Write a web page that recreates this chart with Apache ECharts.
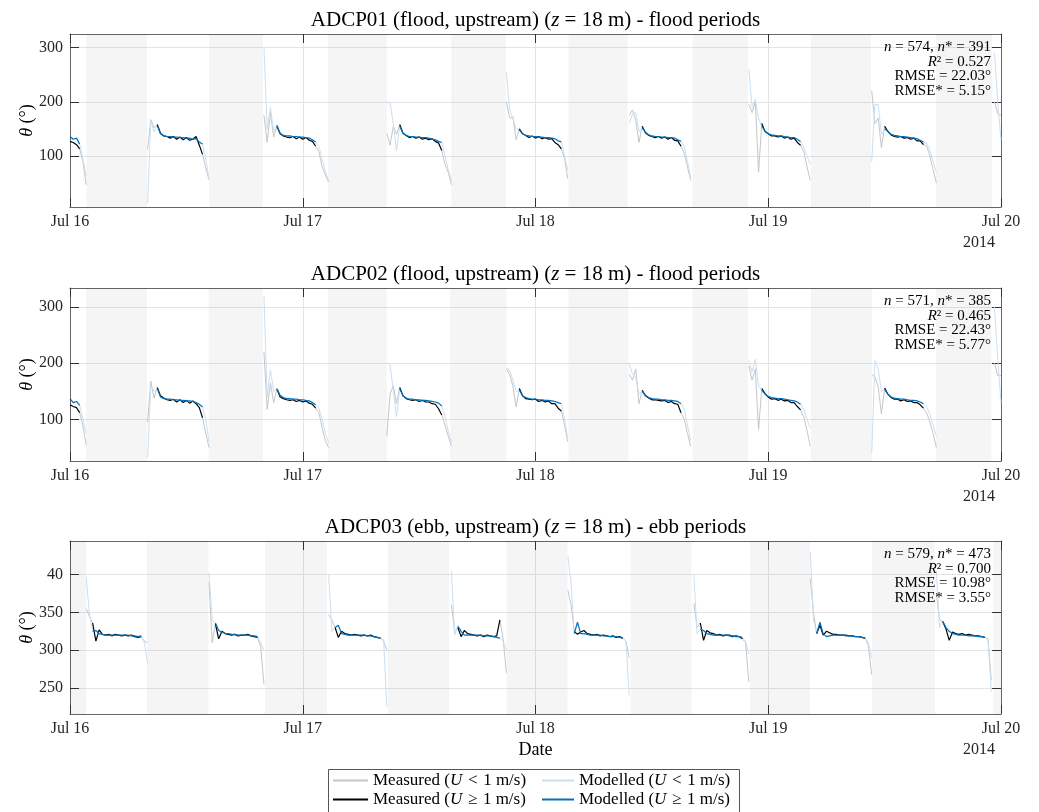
<!DOCTYPE html>
<html><head><meta charset="utf-8">
<script src="https://cdn.jsdelivr.net/npm/echarts@6/dist/echarts.min.js"></script>
<style>html,body{margin:0;padding:0;background:#fff}#main{width:1039px;height:812px}</style>
</head><body><div id="main"></div>
<script>
// ---------- data ----------
const dayTicks = [0, 24, 48, 72, 96];              // hours since Jul 16 00:00
const dayLabels = ['Jul 16', 'Jul 17', 'Jul 18', 'Jul 19', 'Jul 20'];
const yearLabel = '2014';
const stations = ['ADCP01', 'ADCP02', 'ADCP03'];
const tideTypes = ['flood', 'flood', 'ebb'];
const periodTypes = ['flood periods', 'flood periods', 'ebb periods'];
const statN = [574, 571, 579];
const statNStar = [391, 385, 473];
const statR2 = ['0.527', '0.465', '0.700'];
const statRMSE = ['22.03', '22.43', '10.98'];
const statRMSEStar = ['5.15', '5.77', '3.55'];
const seriesNames = ['Measured (U < 1 m/s)', 'Measured (U ≥ 1 m/s)', 'Modelled (U < 1 m/s)', 'Modelled (U ≥ 1 m/s)'];

const yRange1 = [6, 325], yRange2 = [26, 334], yRange3 = [215.5, 444.6];
const yTicks1 = [100, 200, 300], yTicks2 = [100, 200, 300], yTicks3 = [250, 300, 350, 400];

// shaded (excluded) periods, hours
const bands1 = [[1.68,7.94],[14.34,19.9],[26.6,32.67],[39.3,44.95],[51.4,57.5],[64.2,69.9],[76.4,82.6],[89.3,95.1]];
const bands2 = [[1.65,7.94],[14.3,19.9],[26.6,32.67],[39.2,45.0],[51.4,57.6],[64.2,69.9],[76.4,82.7],[89.3,95.0]];
const bands3 = [[0,1.68],[7.94,14.27],[20.1,26.5],[32.8,39.1],[45.0,51.3],[57.8,64.1],[70.1,76.3],[82.7,89.2],[95.2,96]];

// segments: start hour, values every 20 min, index range where U >= 1 m/s
const starts1 = [0, 8.0, 20.0, 32.67, 45.0, 57.67, 70.0, 82.67, 95.33];
const meas1 = [
  [127,125,121,113,90,47],
  [112,167,152,158,142,137,136,133,136,131,135,130,134,129,131,136,120,103,78,56],
  [175,125,180,135,155,141,137,135,134,136,132,135,131,134,129,127,118,108,80,65,52],
  [142,120,155,140,158,142,138,134,136,133,135,131,133,130,132,127,124,110,85,70,47],
  [200,170,172,130,150,141,138,134,137,133,136,132,134,131,132,125,121,113,95,58],
  [175,185,165,125,155,143,138,136,134,136,133,135,131,134,129,128,118,105,80,55],
  [195,180,200,70,160,145,141,137,137,135,137,133,135,131,133,125,120,108,80,55],
  [220,160,170,115,155,145,139,136,135,136,133,134,131,133,128,128,121,118,100,75,50],
  [200,178,175]
];
const model1 = [
  [136,131,133,122,95,62],
  [13,165,145,156,141,137,136,136,135,135,134,134,133,133,131,132,126,122,95,58],
  [300,150,190,145,157,142,138,137,137,136,136,135,135,134,133,130,126,118,95,70,55],
  [200,198,160,110,155,142,138,136,136,135,135,134,134,133,131,130,127,125,100,75,55],
  [255,185,170,150,148,141,138,137,136,136,135,135,134,134,133,132,128,126,100,75],
  [160,178,180,145,152,144,139,137,136,136,135,135,134,134,133,130,127,118,90,60],
  [260,190,205,170,155,146,141,139,138,137,137,136,135,134,134,131,127,115,100,85],
  [90,195,195,140,150,146,140,138,137,136,136,135,134,133,132,129,126,124,110,90,70],
  [290,200,130]
];
const strong1 = [[0,3],[3,17],[4,16],[4,17],[4,17],[4,16],[4,16],[4,16],[-1,-1]];

const starts2 = [0, 8.0, 20.0, 32.67, 45.0, 57.67, 70.0, 82.67, 95.33];
const meas2 = [
  [126,123,121,112,88,55],
  [95,168,138,157,142,138,135,134,136,131,135,130,134,129,133,128,121,103,75,50],
  [220,118,165,130,154,140,137,135,134,135,132,134,131,133,129,127,120,112,85,62,50],
  [70,145,160,128,157,142,137,135,134,135,132,134,131,131,128,127,119,108,90,70,52],
  [190,180,160,122,155,142,137,136,135,136,132,134,131,133,128,128,120,115,90,60],
  [180,170,190,128,152,142,138,135,135,134,133,134,130,132,128,127,112,100,75,52],
  [195,170,190,82,155,146,140,136,137,134,136,133,134,130,130,123,117,105,80,52],
  [180,175,158,110,156,145,139,136,136,133,135,132,133,130,130,126,120,112,95,75,50],
  [200,178,178]
];
const model2 = [
  [137,130,132,125,100,75],
  [32,160,150,155,140,137,136,136,135,135,134,134,133,133,132,130,127,122,100,60],
  [320,140,188,150,155,143,139,137,137,136,136,135,135,134,133,130,126,120,100,75,58],
  [200,198,150,105,154,142,138,136,136,135,135,134,134,133,132,131,129,124,105,80,58],
  [192,188,170,150,152,142,139,137,136,136,135,135,134,134,133,132,130,128,100,65],
  [200,180,175,145,150,143,139,137,136,136,135,135,134,134,133,132,128,118,90,62],
  [205,185,207,160,152,145,141,139,138,137,137,136,135,134,133,131,127,118,100,85],
  [40,205,190,150,153,145,140,138,137,136,136,135,134,134,133,131,128,122,110,90,70],
  [300,210,130]
];
const strong2 = [[0,3],[3,17],[4,16],[4,17],[4,17],[4,16],[4,16],[4,16],[-1,-1]];

const starts3 = [1.67, 14.33, 26.67, 39.33, 51.33, 64.33, 76.33, 89.33];
const meas3 = [
  [355,345,336,312,327,321,320,321,319,321,320,319,320,319,320,318,317,318,312,310],
  [390,310,335,315,325,322,321,320,321,319,320,320,321,319,318,317,305,255],
  [347,340,330,317,325,322,321,320,321,320,319,320,319,320,318,317,316,312,300],
  [360,325,330,318,326,322,321,320,319,320,318,320,319,318,319,340,315,270],
  [380,360,325,321,324,326,322,321,320,321,319,320,319,318,319,317,318,316,312,290],
  [362,330,336,313,326,323,322,320,321,319,320,320,318,319,318,315,310,258],
  [395,350,322,333,320,325,323,321,321,320,320,320,319,319,318,318,317,316,305,268],
  [375,340,338,328,313,324,322,321,322,320,321,320,319,319,318,317,315,260]
];
const model3 = [
  [397,348,325,326,322,321,320,320,320,320,320,320,320,320,319,319,318,319,310,282],
  [403,340,336,326,324,322,322,321,321,320,320,320,320,319,319,318,310,300],
  [400,325,330,333,322,321,320,320,320,320,320,320,319,319,318,317,316,314,225],
  [405,320,332,325,320,320,320,320,320,320,319,319,319,318,317,316,312,300],
  [425,390,322,337,322,322,321,320,320,320,320,319,319,318,318,318,317,316,312,240],
  [400,322,328,326,322,321,320,320,320,320,320,319,319,318,318,317,312,295],
  [430,340,322,337,322,318,319,320,320,320,320,319,319,319,318,318,317,316,310,290],
  [405,330,338,330,325,322,321,320,320,320,319,319,319,318,318,317,314,245]
];
const strong3 = [[2,17],[2,15],[2,16],[2,15],[2,17],[2,15],[2,17],[2,15]];

// ---------- build ----------
const FONT = 'Liberation Serif';
const STEP = 1 / 3;
function split(starts, values, strong) {
  const light = [], dark = [];
  starts.forEach((t0, k) => {
    const pts = values[k].map((v, j) => [+(t0 + j * STEP).toFixed(3), v]);
    const s0 = strong[k][0], s1 = strong[k][1];
    const last = pts[pts.length - 1][0];
    if (s0 < 0) {
      light.push(...pts);
    } else {
      light.push(...pts.slice(0, s0 + 1));
      light.push([pts[s0][0], '-']);
      light.push(...pts.slice(s1));
      dark.push(...pts.slice(s0, s1 + 1));
      dark.push([pts[s1][0], '-']);
    }
    light.push([last, '-']);
  });
  return { light, dark };
}

const panels = [
  { starts: starts1, meas: meas1, model: model1, strong: strong1, bands: bands1, yr: yRange1, yt: yTicks1, top: 34 },
  { starts: starts2, meas: meas2, model: model2, strong: strong2, bands: bands2, yr: yRange2, yt: yTicks2, top: 288 },
  { starts: starts3, meas: meas3, model: model3, strong: strong3, bands: bands3, yr: yRange3, yt: yTicks3, top: 541 }
];
const GL = 70, GW = 931, GH = 173;
const axisCol = '#666', tickCol = '#333', gridCol = '#e4e4e4', txtCol = '#262626';
const colors = { mLight: '#c6c6c6', mDark: '#000000', pLight: '#c9e0f4', pDark: '#0072BD' };

const grid = [], xAxis = [], yAxis = [], series = [], graphic = [];
panels.forEach((p, i) => {
  grid.push({ left: GL, top: p.top, width: GW, height: GH, containLabel: false });
  xAxis.push({
    gridIndex: i, type: 'value', min: 0, max: 96, interval: 24, position: 'bottom',
    axisLine: { show: true, onZero: false, lineStyle: { color: axisCol, width: 1 } },
    axisTick: { show: true, inside: true, length: 9, lineStyle: { color: tickCol } },
    axisLabel: { show: true, margin: 7, color: txtCol, fontFamily: FONT, fontSize: 16,
      formatter: v => dayLabels[dayTicks.indexOf(v)] || '' },
    splitLine: { show: true, lineStyle: { color: gridCol, width: 1 } }
  });
  yAxis.push({
    gridIndex: i, type: 'value', min: p.yr[0], max: p.yr[1], position: 'left',
    axisLine: { show: true, onZero: false, lineStyle: { color: axisCol, width: 1 } },
    axisTick: { show: true, inside: true, length: 9, customValues: p.yt, lineStyle: { color: tickCol } },
    axisLabel: { show: true, margin: 7, color: txtCol, fontFamily: FONT, fontSize: 16, customValues: p.yt,
      formatter: v => String(Math.round(v) % 360) },
    splitLine: { show: true, lineStyle: { color: gridCol, width: 1 } }
  });
});
panels.forEach((p, i) => {
  xAxis.push({
    gridIndex: i, type: 'value', min: 0, max: 96, interval: 24, position: 'top',
    axisLine: { show: true, onZero: false, lineStyle: { color: axisCol, width: 1 } },
    axisTick: { show: true, inside: true, length: 9, lineStyle: { color: tickCol } },
    axisLabel: { show: false }, splitLine: { show: false }
  });
  yAxis.push({
    gridIndex: i, type: 'value', min: p.yr[0], max: p.yr[1], position: 'right',
    axisLine: { show: true, onZero: false, lineStyle: { color: axisCol, width: 1 } },
    axisTick: { show: true, inside: true, length: 9, customValues: p.yt, lineStyle: { color: tickCol } },
    axisLabel: { show: false }, splitLine: { show: false }
  });
});

panels.forEach((p, i) => {
  const m = split(p.starts, p.meas, p.strong);
  const q = split(p.starts, p.model, p.strong);
  const base = { type: 'line', xAxisIndex: i, yAxisIndex: i, symbol: 'none', showSymbol: false,
    connectNulls: false, animation: false, silent: true };
  series.push(Object.assign({}, base, {
    name: '__bands' + i, data: [], z: 1,
    markArea: { silent: true, itemStyle: { color: 'rgba(0,0,0,0.04)' },
      data: p.bands.map(b => [{ xAxis: b[0] }, { xAxis: b[1] }]) }
  }));
  series.push(Object.assign({}, base, { name: seriesNames[0], data: m.light, z: 2,
    lineStyle: { color: colors.mLight, width: 1 }, itemStyle: { color: colors.mLight } }));
  series.push(Object.assign({}, base, { name: seriesNames[2], data: q.light, z: 3,
    lineStyle: { color: colors.pLight, width: 1 }, itemStyle: { color: colors.pLight } }));
  series.push(Object.assign({}, base, { name: seriesNames[1], data: m.dark, z: 4,
    lineStyle: { color: colors.mDark, width: 1.2 }, itemStyle: { color: colors.mDark } }));
  series.push(Object.assign({}, base, { name: seriesNames[3], data: q.dark, z: 5,
    lineStyle: { color: colors.pDark, width: 1.2 }, itemStyle: { color: colors.pDark } }));

  const cx = GL + GW / 2;
  // title
  graphic.push({ type: 'text', x: cx, y: p.top - 14, z: 10, silent: true,
    style: { text: '{n|' + stations[i] + ' (' + tideTypes[i] + ', upstream) (}{i|z}{n|\u00a0= 18 m) - ' + periodTypes[i] + '}',
      align: 'center', verticalAlign: 'middle', textAlign: 'center', textVerticalAlign: 'middle',
      rich: { n: { fontFamily: FONT, fontSize: 21, fill: '#000' }, i: { fontFamily: FONT, fontSize: 21, fontStyle: 'italic', fill: '#000' } } } });
  // y label
  graphic.push({ type: 'text', x: 27, y: p.top + GH / 2, rotation: Math.PI / 2, z: 10, silent: true,
    style: { text: '{i|θ}{n| (°)}', align: 'center', verticalAlign: 'middle', textAlign: 'center', textVerticalAlign: 'middle',
      rich: { n: { fontFamily: FONT, fontSize: 18, fill: '#000' }, i: { fontFamily: FONT, fontSize: 18, fontStyle: 'italic', fill: '#000' } } } });
  // year
  graphic.push({ type: 'text', x: 995, y: p.top + GH + 36, z: 10, silent: true,
    style: { text: yearLabel, align: 'right', verticalAlign: 'middle', textAlign: 'right', textVerticalAlign: 'middle',
      fontFamily: FONT, fontSize: 16, fill: txtCol } });
  // stats
  const sr = { n: { fontFamily: FONT, fontSize: 15, fill: '#000' }, i: { fontFamily: FONT, fontSize: 15, fontStyle: 'italic', fill: '#000' } };
  const lines = [
    '{i|n}{n| = ' + statN[i] + ', }{i|n}{n|* = ' + statNStar[i] + '}',
    '{i|R}{n|² = ' + statR2[i] + '}',
    '{n|RMSE = ' + statRMSE[i] + '°}',
    '{n|RMSE* = ' + statRMSEStar[i] + '°}'
  ];
  lines.forEach((t, k) => graphic.push({ type: 'text', x: 991, y: p.top + 13 + k * 14.6, z: 10, silent: true,
    style: { text: t, align: 'right', verticalAlign: 'middle', textAlign: 'right', textVerticalAlign: 'middle', rich: sr } }));
});
// x label
graphic.push({ type: 'text', x: GL + GW / 2, y: 750, z: 10, silent: true,
  style: { text: 'Date', align: 'center', verticalAlign: 'middle', textAlign: 'center', textVerticalAlign: 'middle',
    fontFamily: FONT, fontSize: 18, fill: '#000' } });
// legend box
graphic.push({ type: 'rect', z: 0, silent: true, shape: { x: 328.5, y: 769.5, width: 411, height: 60 },
  style: { fill: '#fff', stroke: '#555', lineWidth: 1 } });

const legRich = { n: { fontFamily: FONT, fontSize: 17, color: '#000' }, i: { fontFamily: FONT, fontSize: 17, fontStyle: 'italic', color: '#000' } };
const legFmt = name => '{n|' + name.replace('(U ', '(}{i|U}{n|\u2004').replace(' 1 m', '\u20041 m') + '}';
const legBase = { orient: 'vertical', top: 772, padding: 0, itemHeight: 16, itemGap: 2, selectedMode: false,
  itemStyle: { opacity: 0 },
  textStyle: { fontFamily: FONT, fontSize: 17, color: '#000', rich: legRich }, formatter: legFmt, z: 5 };

const option = {
  backgroundColor: '#fff',
  animation: false,
  grid, xAxis, yAxis, series, graphic,
  legend: [
    Object.assign({}, legBase, { left: 332, itemWidth: 35, data: [seriesNames[0], seriesNames[1]] }),
    Object.assign({}, legBase, { left: 541, itemWidth: 32, data: [seriesNames[2], seriesNames[3]] })
  ]
};
const chart = echarts.init(document.getElementById('main'));
chart.setOption(option);
</script></body></html>
